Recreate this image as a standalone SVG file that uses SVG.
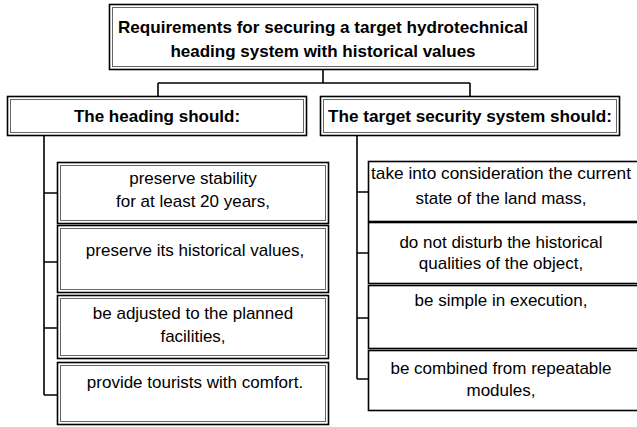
<svg xmlns="http://www.w3.org/2000/svg" width="637" height="427" viewBox="0 0 637 427">
<style>
.o{fill:#fff;stroke:#000;stroke-width:1.6}
.i{fill:none;stroke:#666;stroke-width:1}
.s{fill:#fff;stroke:#000;stroke-width:1.6}
.c{fill:none;stroke:#000;stroke-width:1.6}
text{font-family:"Liberation Sans",Arial,sans-serif;fill:#000;text-anchor:middle}
.b{font-weight:bold;font-size:17px}
.t{font-size:17px}
</style>
<rect width="637" height="427" fill="#fff"/>
<g id="connectors">
<path class="c" d="M323 69V83M158 83H470M158 83V96M470 83V96"/>
<path class="c" d="M44 135V395M44 193H57M44 262H57M44 328H57M44 395H57"/>
<path class="c" d="M357 135V379M357 192H368M357 253H368M357 318H368M357 379H368"/>
</g>
<g id="title">
<rect class="o" x="109.5" y="4.5" width="428" height="65"/>
<rect class="i" x="112.5" y="7.5" width="422" height="59"/>
<text class="b" x="323" y="33" textLength="410" lengthAdjust="spacingAndGlyphs">Requirements for securing a target hydrotechnical</text>
<text class="b" x="323" y="57">heading system with historical values</text>
</g>
<g id="heading">
<rect class="o" x="7.5" y="96.5" width="299" height="39"/>
<rect class="i" x="10.5" y="99.5" width="293" height="33"/>
<text class="b" x="157" y="122">The heading should:</text>
</g>
<g id="security">
<rect class="o" x="320.5" y="96.5" width="299" height="39"/>
<rect class="i" x="323.5" y="99.5" width="293" height="33"/>
<text class="b" x="470" y="122" textLength="284" lengthAdjust="spacingAndGlyphs">The target security system should:</text>
</g>
<g id="h1">
<rect class="o" x="57.5" y="162.5" width="271" height="61"/>
<rect class="i" x="60.5" y="165.5" width="265" height="55"/>
<text class="t" x="193" y="184">preserve stability</text>
<text class="t" x="193" y="207">for at least 20 years,</text>
</g>
<g id="h2">
<rect class="o" x="57.5" y="225.5" width="271" height="67"/>
<rect class="i" x="60.5" y="228.5" width="265" height="61"/>
<text class="t" x="195" y="256">preserve its historical values,</text>
</g>
<g id="h3">
<rect class="o" x="57.5" y="295.5" width="271" height="63"/>
<rect class="i" x="60.5" y="298.5" width="265" height="57"/>
<text class="t" x="193" y="319">be adjusted to the planned</text>
<text class="t" x="193" y="342">facilities,</text>
</g>
<g id="h4">
<rect class="o" x="57.5" y="362.5" width="271" height="62"/>
<rect class="i" x="60.5" y="365.5" width="265" height="56"/>
<text class="t" x="195" y="388">provide tourists with comfort.</text>
</g>
<g id="s1">
<rect class="s" x="368.5" y="161.5" width="272" height="60"/>
<text class="t" x="501" y="179" textLength="260" lengthAdjust="spacingAndGlyphs">take into consideration the current</text>
<text class="t" x="501" y="204">state of the land mass,</text>
</g>
<g id="s2">
<rect class="s" x="368.5" y="222.5" width="272" height="61"/>
<text class="t" x="501" y="248">do not disturb the historical</text>
<text class="t" x="501" y="269">qualities of the object,</text>
</g>
<g id="s3">
<rect class="s" x="368.5" y="285.5" width="272" height="63"/>
<text class="t" x="501" y="306">be simple in execution,</text>
</g>
<g id="s4">
<rect class="s" x="368.5" y="350.5" width="272" height="60"/>
<text class="t" x="501" y="374">be combined from repeatable</text>
<text class="t" x="501" y="396">modules,</text>
</g>
</svg>
